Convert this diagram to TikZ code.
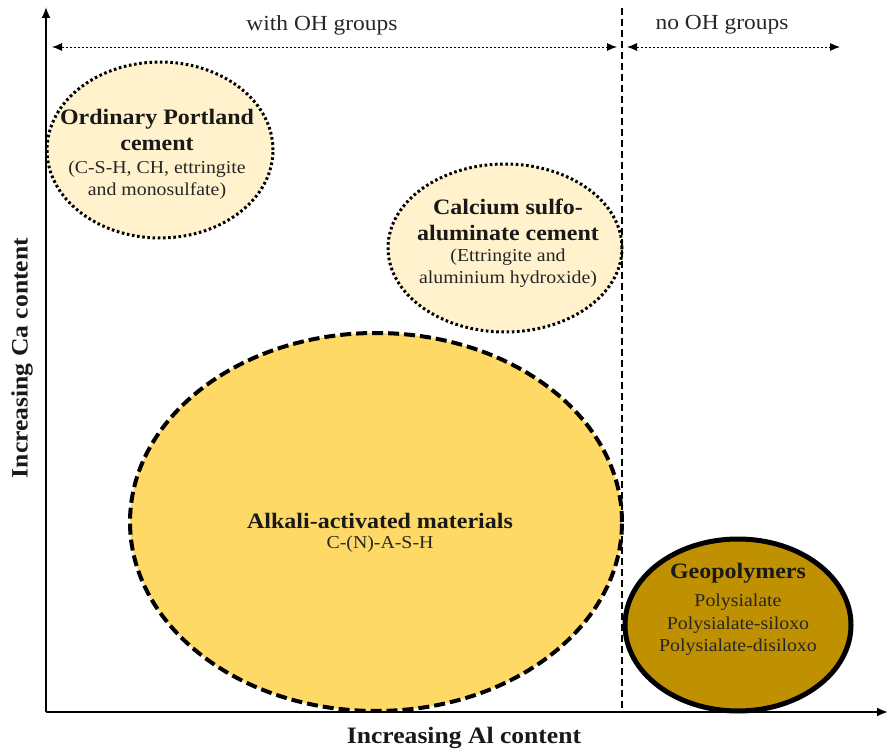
\documentclass[tikz,border=0pt]{standalone}
\usepackage{fontspec}
\setmainfont{Liberation Serif}[FakeStretch=1.09]
\usetikzlibrary{shapes.geometric,arrows.meta}
\definecolor{creamfill}{HTML}{FFF2CC}
\definecolor{goldfill}{HTML}{FFD966}
\definecolor{darkgold}{HTML}{BF9000}
\tikzset{
  axis/.style={line width=1.8pt,-{Latex[length=11pt,width=9pt]}},
  rangearrow/.style={line width=0.9pt,dash pattern=on 2.5pt off 1.5pt,{Latex[length=10pt,width=8pt]}-{Latex[length=10pt,width=8pt]}},
  divider/.style={line width=1.6pt,dash pattern=on 7pt off 4pt},
  dotell/.style={ellipse,draw=black,fill=creamfill,line width=3pt,dash pattern=on 2.6pt off 2.6pt,inner sep=0pt},
  dashell/.style={ellipse,draw=black,fill=goldfill,line width=4pt,dash pattern=on 11pt off 5pt,inner sep=0pt},
  solidell/.style={ellipse,draw=black,fill=darkgold,line width=5pt,inner sep=0pt},
  titletxt/.style={align=center,inner sep=0pt,font=\fontsize{22}{26}\selectfont\bfseries,text=black!90},
  bodytxt/.style={align=center,inner sep=0pt,font=\fontsize{18.2}{22.5}\selectfont,text=black!85},
  toplabel/.style={font=\fontsize{21.5}{24}\selectfont,text=black!85},
  axislabel/.style={font=\fontsize{23.5}{26}\selectfont\bfseries,text=black!90}
}
\begin{document}
\begin{tikzpicture}[x=1pt,y=-1pt]
\useasboundingbox (0,0) rectangle (887,751);
% ellipses
\node[dotell,minimum width=226pt,minimum height=176pt] (opc) at (160,150) {};
\node[dotell,minimum width=234pt,minimum height=168pt] (csa) at (505,248) {};
\node[dashell,minimum width=492pt,minimum height=378pt] (aam) at (376,522) {};
\node[solidell,minimum width=226pt,minimum height=172pt] (geo) at (738,625) {};
% divider and axes
\coordinate (divtop) at (622,8);
\coordinate (divbot) at (622,712);
\draw[divider] (divtop) -- (divbot);
\coordinate (origin) at (46,712);
\coordinate (ytip) at (46,7);
\coordinate (xtip) at (888,712);
\draw[axis] (origin) -- (ytip);
\draw[axis] (origin) -- (xtip);
% range arrows
\coordinate (la) at (52,47);
\coordinate (lb) at (617,47);
\coordinate (ra) at (627,47);
\coordinate (rb) at (840,47);
\draw[rangearrow] (la) -- (lb);
\draw[rangearrow] (ra) -- (rb);
\node[toplabel] (withoh) at (322,25) {with OH groups};
\node[toplabel] (nooh) at (722,25) {no OH groups};
% texts
\node[titletxt] (opct) at (157,130) {Ordinary Portland\\cement};
\node[bodytxt] (opcb) at (157,180) {(C-S-H, CH, ettringite\\and monosulfate)};
\node[titletxt] (csat) at (508,220) {Calcium sulfo-\\aluminate cement};
\node[bodytxt] (csab) at (508,268) {(Ettringite and\\aluminium hydroxide)};
\node[titletxt] (aamt) at (380,521) {Alkali-activated materials};
\node[bodytxt] (aamb) at (380,544) {C-(N)-A-S-H};
\node[titletxt] (geot) at (738,573) {Geopolymers};
\node[bodytxt] (geob) at (738,625) {Polysialate\\Polysialate-siloxo\\Polysialate-disiloxo};
% axis labels
\node[axislabel,rotate=90] (ylab) at (22,358) {Increasing Ca content};
\node[axislabel] (xlab) at (464,738) {Increasing Al content};
\end{tikzpicture}
\end{document}
